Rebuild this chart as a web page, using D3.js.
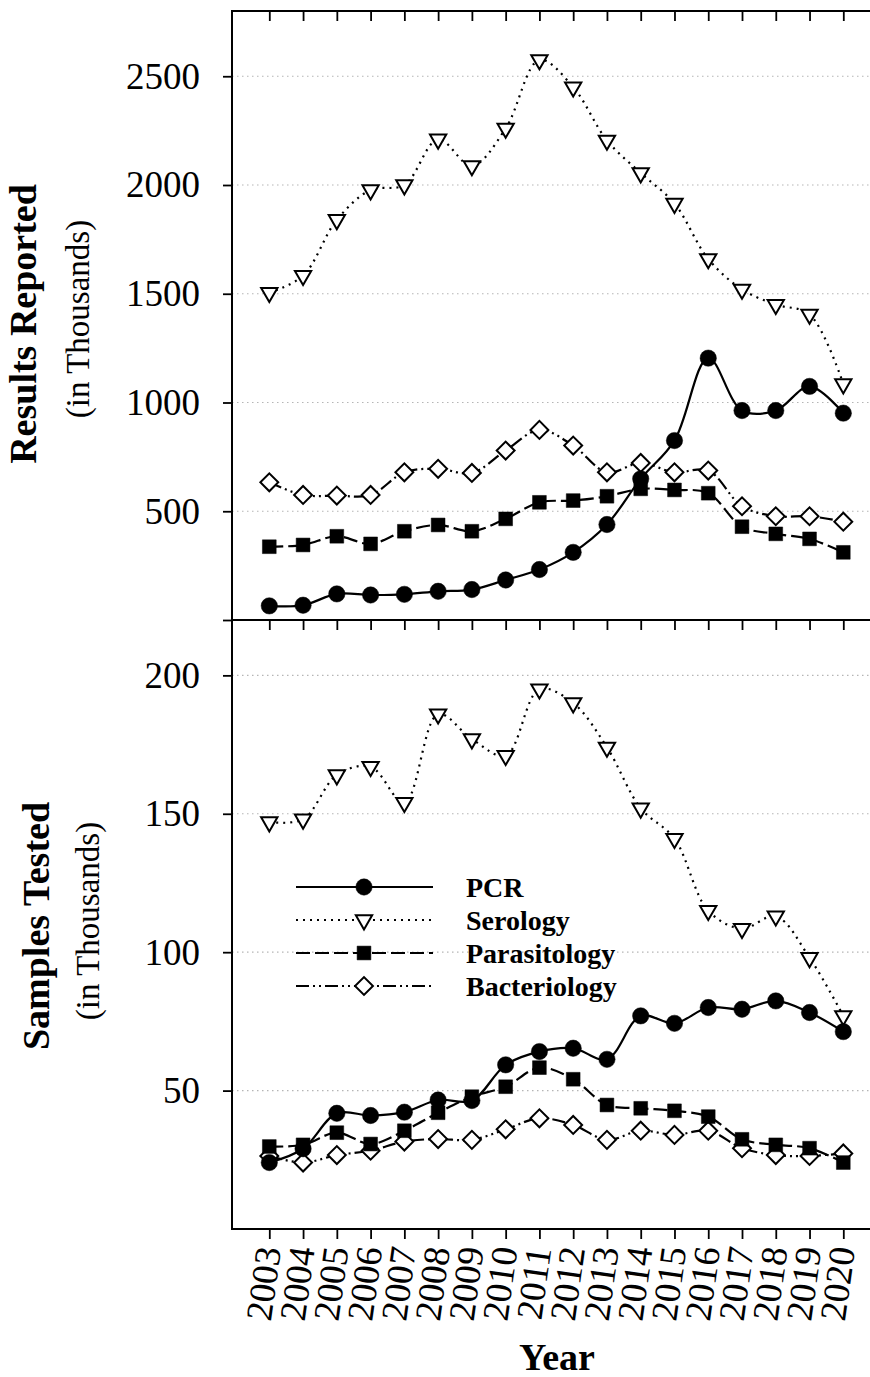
<!DOCTYPE html>
<html>
<head>
<meta charset="utf-8">
<script src="https://cdn.jsdelivr.net/npm/d3@7"></script>
<style>
  html, body { margin: 0; padding: 0; background: #fff; }
  svg { display: block; font-family: "Liberation Serif", "Times New Roman", serif; }
</style>
</head>
<body>
<svg id="chart" width="870" height="1377"></svg>
<script>
// Years on the shared x axis
const years = [2003, 2004, 2005, 2006, 2007, 2008, 2009, 2010, 2011,
               2012, 2013, 2014, 2015, 2016, 2017, 2018, 2019, 2020];

// Results reported (thousands)
const resultsPCR          = [65, 68, 120, 115, 118, 132, 140, 184, 232, 311, 439, 649, 825, 1204, 963, 963, 1074, 951];
const resultsSerology     = [1505, 1583, 1840, 1977, 2000, 2210, 2088, 2260, 2575, 2450, 2205, 2055, 1915, 1660, 1520, 1450, 1405, 1085];
const resultsParasitology = [337, 345, 385, 350, 408, 437, 408, 465, 541, 549, 569, 603, 598, 583, 429, 396, 373, 311];
const resultsBacteriology = [633, 575, 572, 575, 679, 695, 676, 779, 874, 802, 679, 722, 679, 687, 523, 477, 477, 452];

// Samples tested (thousands)
const samplesPCR          = [24, 29, 41.8, 41, 42.2, 46.6, 46.4, 59.3, 64.1, 65.3, 61.3, 77, 74.3, 80, 79.4, 82.4, 78.2, 71.3];
const samplesSerology     = [147, 148, 164, 167, 154, 186, 177, 171, 195, 190, 174, 152, 141, 115, 108.5, 113, 98, 77];
const samplesParasitology = [29.8, 30.4, 34.8, 30.7, 35.5, 42, 47.8, 51.4, 58.3, 54.1, 44.8, 43.6, 42.7, 40.6, 32.4, 30.4, 29.2, 24];
const samplesBacteriology = [26.4, 24, 26.7, 28.3, 31.6, 32.5, 32.2, 36, 40, 37.6, 32.2, 35.5, 34, 35.5, 29.2, 26.7, 26.4, 27.3];

// Axis ticks
const resultsTicks = [0, 500, 1000, 1500, 2000, 2500];
const samplesTicks = [50, 100, 150, 200];

const seriesNames = ["PCR", "Serology", "Parasitology", "Bacteriology"];

// Visual style per series
const styles = {
  PCR:          { dash: null,              symbol: d3.symbolCircle,   size: 210, rotate: 0,   fill: "#000" },
  Serology:     { dash: "2,5",             symbol: d3.symbolTriangle, size: 115, rotate: 180, fill: "#fff" },
  Parasitology: { dash: "14,5",            symbol: d3.symbolSquare,   size: 190, rotate: 0,   fill: "#000" },
  Bacteriology: { dash: "13,4,2,4,2,4",    symbol: d3.symbolSquare,   size: 160, rotate: 45,  fill: "#fff" }
};

const svg = d3.select("#chart");
const W = 870;
const axisX = 232;

const x = d3.scaleLinear().domain([2003, 2020]).range([269.3, 843.3]);

const topY = d3.scaleLinear().domain([0, 2800]).range([620, 11]);
const botY = d3.scaleLinear().domain([0, 220]).range([1229, 620]);

const line = yScale => d3.line()
  .x((d, i) => x(years[i]))
  .y(d => yScale(d))
  .curve(d3.curveCatmullRom.alpha(0.5));

function drawPanel(yScale, tickVals, data) {
  const g = svg.append("g");

  // dotted gridlines
  g.selectAll("line.grid")
    .data(tickVals.filter(v => v > 0))
    .join("line")
    .attr("x1", axisX).attr("x2", W)
    .attr("y1", d => yScale(d)).attr("y2", d => yScale(d))
    .attr("stroke", "#b5b5b5").attr("stroke-width", 1.2)
    .attr("stroke-dasharray", "1.5,3.5");

  // y axis ticks + labels
  const ax = g.append("g")
    .attr("transform", `translate(${axisX},0)`)
    .call(d3.axisLeft(yScale).tickValues(tickVals).tickSize(9).tickPadding(23)
      .tickFormat(d => d === 0 ? "" : d));
  ax.select(".domain").remove();
  ax.selectAll(".tick line").attr("stroke", "#000").attr("stroke-width", 1.8);
  ax.selectAll(".tick text")
    .attr("font-family", "Liberation Serif, serif")
    .attr("font-size", 37).attr("fill", "#000");

  // series: lines first, then markers; PCR last so it sits on top
  const order = ["Serology", "Bacteriology", "Parasitology", "PCR"];
  order.forEach(name => {
    const st = styles[name];
    g.append("path")
      .datum(data[name])
      .attr("d", line(yScale))
      .attr("fill", "none")
      .attr("stroke", "#000")
      .attr("stroke-width", 2.2)
      .attr("stroke-dasharray", st.dash);
    g.selectAll(null)
      .data(data[name])
      .join("path")
      .attr("transform", (d, i) => `translate(${x(years[i])},${yScale(d)}) rotate(${st.rotate})`)
      .attr("d", d3.symbol().type(st.symbol).size(st.size))
      .attr("fill", st.fill)
      .attr("stroke", "#000")
      .attr("stroke-width", st.fill === "#fff" ? 2 : 0.5);
  });
}

drawPanel(topY, resultsTicks, {
  PCR: resultsPCR, Serology: resultsSerology,
  Parasitology: resultsParasitology, Bacteriology: resultsBacteriology
});
drawPanel(botY, samplesTicks, {
  PCR: samplesPCR, Serology: samplesSerology,
  Parasitology: samplesParasitology, Bacteriology: samplesBacteriology
});

// frame lines: top, divider, bottom, left
const frame = svg.append("g").attr("stroke", "#000").attr("stroke-width", 2);
[11, 620, 1229].forEach(yy => {
  frame.append("line").attr("x1", axisX).attr("x2", W).attr("y1", yy).attr("y2", yy);
});
frame.append("line").attr("x1", axisX).attr("x2", axisX).attr("y1", 10).attr("y2", 1230);

// x ticks hanging below each horizontal frame line
[11, 620, 1229].forEach(yy => {
  const ax = svg.append("g")
    .attr("transform", `translate(0,${yy})`)
    .call(d3.axisBottom(x).tickValues(years).tickSize(10).tickFormat(""));
  ax.select(".domain").remove();
  ax.selectAll(".tick line").attr("stroke", "#000").attr("stroke-width", 1.8);
});

// rotated year labels
svg.append("g").selectAll("text")
  .data(years)
  .join("text")
  .attr("transform", d => `translate(${x(d) - 1},1247) rotate(-82)`)
  .attr("text-anchor", "end")
  .attr("dy", "0.35em")
  .attr("font-size", 37)
  .attr("fill", "#000")
  .text(d => d);

// x axis title
svg.append("text")
  .attr("x", 557).attr("y", 1370)
  .attr("text-anchor", "middle")
  .attr("font-size", 38).attr("font-weight", "bold")
  .text("Year");

// y axis titles
function yTitle(cx, cy, main, sub, subX) {
  svg.append("text")
    .attr("transform", `translate(${cx},${cy}) rotate(-90)`)
    .attr("text-anchor", "middle")
    .attr("font-size", 38).attr("font-weight", "bold")
    .text(main);
  svg.append("text")
    .attr("transform", `translate(${subX},${cy - 5}) rotate(-90)`)
    .attr("text-anchor", "middle")
    .attr("font-size", 33)
    .text(sub);
}
yTitle(36, 324, "Results Reported", "(in Thousands)", 89);
yTitle(49, 926, "Samples Tested", "(in Thousands)", 99);

// legend
const legendRows = [887, 920, 953, 986];
const lg = svg.append("g");
seriesNames.forEach((name, i) => {
  const st = styles[name];
  const yy = legendRows[i];
  lg.append("line")
    .attr("x1", 296).attr("x2", 433).attr("y1", yy).attr("y2", yy)
    .attr("stroke", "#000").attr("stroke-width", 2.2)
    .attr("stroke-dasharray", st.dash);
  lg.append("path")
    .attr("transform", `translate(364,${yy}) rotate(${st.rotate})`)
    .attr("d", d3.symbol().type(st.symbol).size(st.size))
    .attr("fill", st.fill).attr("stroke", "#000")
    .attr("stroke-width", st.fill === "#fff" ? 2 : 0.5);
  lg.append("text")
    .attr("x", 466).attr("y", yy).attr("dy", "0.35em")
    .attr("font-size", 28).attr("font-weight", "bold")
    .text(name);
});
</script>
</body>
</html>
